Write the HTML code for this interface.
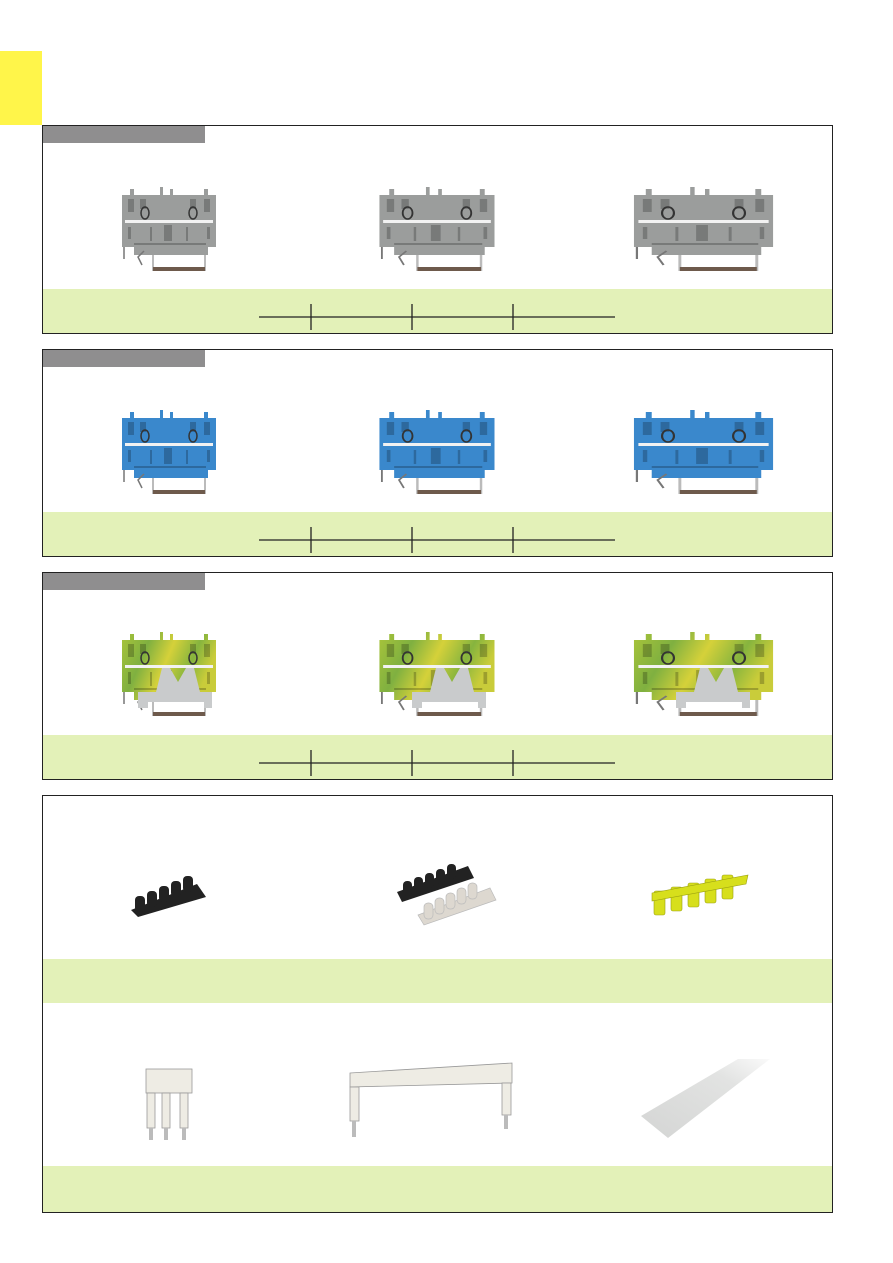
<!DOCTYPE html>
<html><head><meta charset="utf-8"><style>
html,body{margin:0;padding:0;background:#fff}
svg{display:block}
</style></head><body>
<svg width="893" height="1263" viewBox="0 0 893 1263" xmlns="http://www.w3.org/2000/svg">
<defs>
<linearGradient id="gy" x1="0" y1="0" x2="1" y2="0.3">
<stop offset="0" stop-color="#a9c43a"/><stop offset=".3" stop-color="#7fb040"/><stop offset=".55" stop-color="#d5d13a"/><stop offset=".8" stop-color="#86b43e"/><stop offset="1" stop-color="#c9cc3a"/>
</linearGradient>
<linearGradient id="strip" x1="0" y1="1" x2="1" y2="0">
<stop offset="0" stop-color="#d4d5d4"/><stop offset=".7" stop-color="#e2e3e2"/><stop offset="1" stop-color="#fafafa"/>
</linearGradient>
<g id="tb">
<path d="M2 6 H10 V0 H14 V6 H40 V-2 H43 V6 H50 V0 H53 V6 H84 V0 H88 V6 H96 V58 H88 V66 H14 V58 H2 Z"/>
<g fill="#000" opacity=".22">
<rect x="8" y="10" width="6" height="13"/><rect x="20" y="10" width="6" height="10"/><rect x="70" y="10" width="6" height="10"/><rect x="84" y="10" width="6" height="13"/>
<rect x="44" y="36" width="8" height="16"/><rect x="8" y="38" width="3" height="12"/><rect x="87" y="38" width="3" height="12"/>
<rect x="30" y="38" width="2" height="14"/><rect x="66" y="38" width="2" height="14"/><rect x="14" y="54" width="72" height="2"/>
</g>
<ellipse cx="25" cy="24" rx="4" ry="6" fill="none" stroke="#333" stroke-width="1.5"/>
<ellipse cx="73" cy="24" rx="4" ry="6" fill="none" stroke="#333" stroke-width="1.5"/>
<rect x="5" y="31" width="88" height="3" fill="#f2f2f2"/>
<rect x="32" y="66" width="2" height="16" fill="#bbb"/><rect x="84" y="66" width="2" height="16" fill="#bbb"/>
<rect x="33" y="78" width="52" height="4" fill="#6e5a4c"/>
<path d="M4 58 L4 70 M24 62 L18 68 L22 76" stroke="#777" stroke-width="1.5" fill="none"/>
</g>
<g id="foot">
<path d="M38 34 H46 L54 48 L62 34 H70 L76 58 L88 58 V74 H80 V68 H24 V74 H14 V58 H32 Z" fill="#c9cbcc"/>
</g>
</defs>

<rect x="0" y="51" width="42" height="74" fill="#fff54a"/>

<!-- Panel 1 -->
<rect x="42.5" y="125.5" width="790" height="208" fill="#fff" stroke="#222"/>
<rect x="43" y="126" width="162" height="17" fill="#8f8e8f"/>
<rect x="43" y="289" width="789" height="44" fill="#e3f1b8"/>
<use href="#tb" transform="translate(120,189)" fill="#9b9d9c"/>
<use href="#tb" transform="translate(377,189) scale(1.224,1)" fill="#9b9d9c"/>
<use href="#tb" transform="translate(631,189) scale(1.48,1)" fill="#9b9d9c"/>
<g stroke="#222" stroke-width="1.3">
<line x1="259" y1="317" x2="615" y2="317"/><line x1="311" y1="304" x2="311" y2="330"/><line x1="412" y1="304" x2="412" y2="330"/><line x1="513" y1="304" x2="513" y2="330"/>
</g>
<rect x="42.5" y="125.5" width="790" height="208" fill="none" stroke="#222"/>

<!-- Panel 2 -->
<rect x="42.5" y="349.5" width="790" height="207" fill="#fff" stroke="#222"/>
<rect x="43" y="350" width="162" height="17" fill="#8f8e8f"/>
<rect x="43" y="512" width="789" height="44" fill="#e3f1b8"/>
<use href="#tb" transform="translate(120,412)" fill="#3a88cc"/>
<use href="#tb" transform="translate(377,412) scale(1.224,1)" fill="#3a88cc"/>
<use href="#tb" transform="translate(631,412) scale(1.48,1)" fill="#3a88cc"/>
<g stroke="#222" stroke-width="1.3">
<line x1="259" y1="540" x2="615" y2="540"/><line x1="311" y1="527" x2="311" y2="553"/><line x1="412" y1="527" x2="412" y2="553"/><line x1="513" y1="527" x2="513" y2="553"/>
</g>
<rect x="42.5" y="349.5" width="790" height="207" fill="none" stroke="#222"/>

<!-- Panel 3 -->
<rect x="42.5" y="572.5" width="790" height="207" fill="#fff" stroke="#222"/>
<rect x="43" y="573" width="162" height="17" fill="#8f8e8f"/>
<rect x="43" y="735" width="789" height="44" fill="#e3f1b8"/>
<use href="#tb" transform="translate(120,634)" fill="url(#gy)"/>
<use href="#foot" transform="translate(124,634)"/>
<use href="#tb" transform="translate(377,634) scale(1.224,1)" fill="url(#gy)"/>
<use href="#foot" transform="translate(398,634)"/>
<use href="#tb" transform="translate(631,634) scale(1.48,1)" fill="url(#gy)"/>
<use href="#foot" transform="translate(662,634)"/>
<g stroke="#222" stroke-width="1.3">
<line x1="259" y1="763" x2="615" y2="763"/><line x1="311" y1="750" x2="311" y2="776"/><line x1="412" y1="750" x2="412" y2="776"/><line x1="513" y1="750" x2="513" y2="776"/>
</g>
<rect x="42.5" y="572.5" width="790" height="207" fill="none" stroke="#222"/>

<!-- Panel 4 -->
<rect x="42.5" y="795.5" width="790" height="417" fill="#fff" stroke="#222"/>
<rect x="43" y="959" width="789" height="44" fill="#e3f1b8"/>
<rect x="43" y="1166" width="789" height="46" fill="#e3f1b8"/>

<g fill="#222">
<path d="M131 910 L197 884 L206 897 L138 917 Z"/>
<rect x="135" y="896" width="10" height="16" rx="4"/><rect x="147" y="891" width="10" height="16" rx="4"/><rect x="159" y="886" width="10" height="16" rx="4"/><rect x="171" y="881" width="10" height="16" rx="4"/><rect x="183" y="876" width="10" height="16" rx="4"/>
</g>
<g fill="#222">
<path d="M397 892 L468 866 L474 878 L402 902 Z"/>
<rect x="403" y="881" width="9" height="15" rx="4"/><rect x="414" y="877" width="9" height="15" rx="4"/><rect x="425" y="873" width="9" height="15" rx="4"/><rect x="436" y="869" width="9" height="15" rx="4"/><rect x="447" y="864" width="9" height="15" rx="4"/>
</g>
<g fill="#ddd8d0" stroke="#bbb" stroke-width=".7">
<path d="M418 915 L490 888 L496 900 L424 925 Z"/>
<rect x="424" y="903" width="9" height="16" rx="4"/><rect x="435" y="898" width="9" height="16" rx="4"/><rect x="446" y="893" width="9" height="16" rx="4"/><rect x="457" y="888" width="9" height="16" rx="4"/><rect x="468" y="883" width="9" height="16" rx="4"/>
</g>
<g fill="#d7df1c" stroke="#9aa010" stroke-width=".6">
<rect x="654" y="891" width="11" height="24" rx="2"/><rect x="671" y="887" width="11" height="24" rx="2"/><rect x="688" y="883" width="11" height="24" rx="2"/><rect x="705" y="879" width="11" height="24" rx="2"/><rect x="722" y="875" width="11" height="24" rx="2"/>
<path d="M652 893 L748 875 L746 884 L652 901 Z"/>
</g>

<g>
<rect x="146" y="1069" width="46" height="24" fill="#eeece4" stroke="#999" stroke-width=".8"/>
<rect x="147" y="1093" width="8" height="35" fill="#eeece4" stroke="#999" stroke-width=".8"/>
<rect x="162" y="1093" width="8" height="35" fill="#eeece4" stroke="#999" stroke-width=".8"/>
<rect x="180" y="1093" width="8" height="35" fill="#eeece4" stroke="#999" stroke-width=".8"/>
<rect x="149" y="1128" width="4" height="12" fill="#bbb"/><rect x="164" y="1128" width="4" height="12" fill="#bbb"/><rect x="182" y="1128" width="4" height="12" fill="#bbb"/>
</g>
<g>
<path d="M350 1073 L512 1063 L512 1083 L350 1087 Z" fill="#eeece4" stroke="#999" stroke-width=".8"/>
<rect x="350" y="1087" width="9" height="34" fill="#eeece4" stroke="#999" stroke-width=".8"/>
<rect x="502" y="1083" width="9" height="32" fill="#eeece4" stroke="#999" stroke-width=".8"/>
<rect x="352" y="1121" width="4" height="16" fill="#bbb"/><rect x="504" y="1115" width="4" height="14" fill="#bbb"/>
</g>
<path d="M641 1116 L738 1059 L770 1059 L668 1138 Z" fill="url(#strip)"/>

<rect x="42.5" y="795.5" width="790" height="417" fill="none" stroke="#222"/>
</svg>
</body></html>
